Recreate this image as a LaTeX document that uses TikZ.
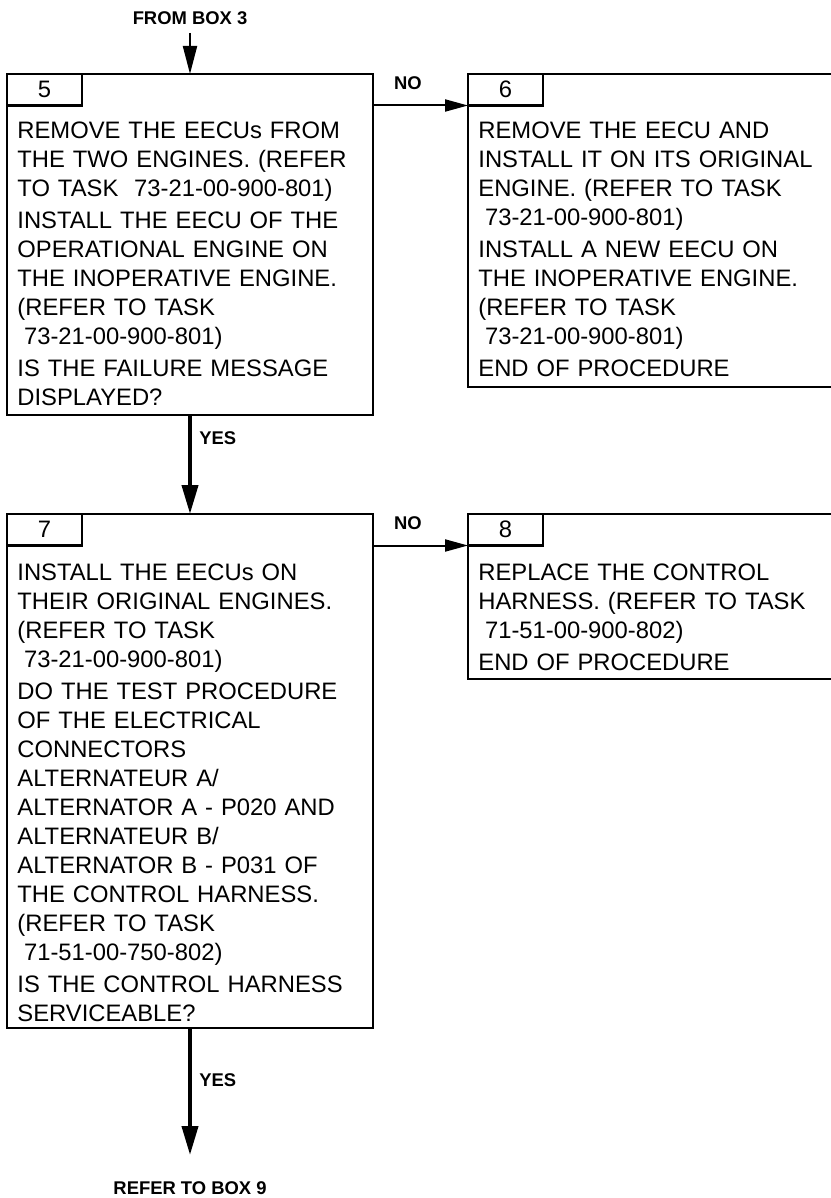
\documentclass[tikz,border=0pt]{standalone}
\usepackage{fontspec}
\setmainfont{Liberation Sans}
\usetikzlibrary{arrows.meta}
\begin{document}
\begin{tikzpicture}[x=0.5pt,y=-0.5pt,
  box/.style={draw,line width=1.2pt,rectangle,inner sep=0pt,outer sep=0pt,anchor=north west,minimum width=#1},
  tabbox/.style={draw,line width=1.2pt,rectangle,inner sep=0pt,outer sep=0pt,anchor=north west,minimum width=37.5pt,minimum height=15.75pt},
  num/.style={inner sep=0pt,font=\fontsize{11.9pt}{14.5pt}\selectfont},
  txt/.style={inner sep=0pt,anchor=base west,text width=200pt,align=left,font=\fontsize{11.9pt}{14.5pt}\selectfont},
  lbl/.style={inner sep=0pt,font=\bfseries\fontsize{9.2pt}{11pt}\selectfont},
  thickarrow/.style={line width=2pt,-{Triangle[length=14.5pt,width=8pt]}},
  thinarrow/.style={line width=1pt,-{Triangle[length=14pt,width=7pt]}},
  noarrow/.style={line width=1pt,-{Triangle[length=11.5pt,width=6pt]}},
]
\useasboundingbox (0,0) rectangle (830,1198);
\fill[white] (0,0) rectangle (830,1198);

% boxes
\node[box=183pt,minimum height=170.5pt] (b5) at (7,74) {};
\node[box=182pt,minimum height=156.5pt] (b6) at (468,74) {};
\node[box=183pt,minimum height=257pt] (b7) at (7,514) {};
\node[box=182pt,minimum height=82.5pt] (b8) at (468,514) {};

% tabs
\node[tabbox] (t5) at (7,74) {};
\node[tabbox] (t6) at (468,74) {};
\node[tabbox] (t7) at (7,514) {};
\node[tabbox] (t8) at (468,514) {};
\node[num] (n5) at (t5.center) {5};
\node[num] (n6) at (t6.center) {6};
\node[num] (n7) at (t7.center) {7};
\node[num] (n8) at (t8.center) {8};

% texts
\node[txt] (x5) at (17,139) {REMOVE THE EECUs FROM\\
THE TWO ENGINES. (REFER\\
TO TASK\ \ 73-21-00-900-801)\\[1.5pt]
INSTALL THE EECU OF THE\\
OPERATIONAL ENGINE ON\\
THE INOPERATIVE ENGINE.\\
(REFER TO TASK\\
\hspace*{0.28em}73-21-00-900-801)\\[1.5pt]
IS THE FAILURE MESSAGE\\
DISPLAYED?};

\node[txt] (x6) at (478,139) {REMOVE THE EECU AND\\
INSTALL IT ON ITS ORIGINAL\\
ENGINE. (REFER TO TASK\\
\hspace*{0.28em}73-21-00-900-801)\\[1.5pt]
INSTALL A NEW EECU ON\\
THE INOPERATIVE ENGINE.\\
(REFER TO TASK\\
\hspace*{0.28em}73-21-00-900-801)\\[1.5pt]
END OF PROCEDURE};

\node[txt] (x7) at (17,580) {INSTALL THE EECUs ON\\
THEIR ORIGINAL ENGINES.\\
(REFER TO TASK\\
\hspace*{0.28em}73-21-00-900-801)\\[1.5pt]
DO THE TEST PROCEDURE\\
OF THE ELECTRICAL\\
CONNECTORS\\
ALTERNATEUR A/\\
ALTERNATOR A - P020 AND\\
ALTERNATEUR B/\\
ALTERNATOR B - P031 OF\\
THE CONTROL HARNESS.\\
(REFER TO TASK\\
\hspace*{0.28em}71-51-00-750-802)\\[1.5pt]
IS THE CONTROL HARNESS\\
SERVICEABLE?};

\node[txt] (x8) at (478,580) {REPLACE THE CONTROL\\
HARNESS. (REFER TO TASK\\
\hspace*{0.28em}71-51-00-900-802)\\[1.5pt]
END OF PROCEDURE};

% labels
\node[lbl] (from) at (190,18) {FROM BOX 3};
\node[lbl] (refer) at (190,1188) {REFER TO BOX 9};
\node[lbl,anchor=west] (yes1) at (199,438) {YES};
\node[lbl,anchor=west] (yes2) at (199,1080) {YES};
\node[lbl] (no1) at (408,83) {NO};
\node[lbl] (no2) at (408,523) {NO};

% connectors
\coordinate (src) at (190,33);
\coordinate (dst) at (190,1155);
\draw[thinarrow] (src) -- (b5.north);
\draw[noarrow] (b5.east |- t6.south west) -- (t6.south west);
\draw[thickarrow] (b5.south) -- (b7.north);
\draw[noarrow] (b7.east |- t8.south west) -- (t8.south west);
\draw[thickarrow] (b7.south) -- (dst);
\end{tikzpicture}
\end{document}
